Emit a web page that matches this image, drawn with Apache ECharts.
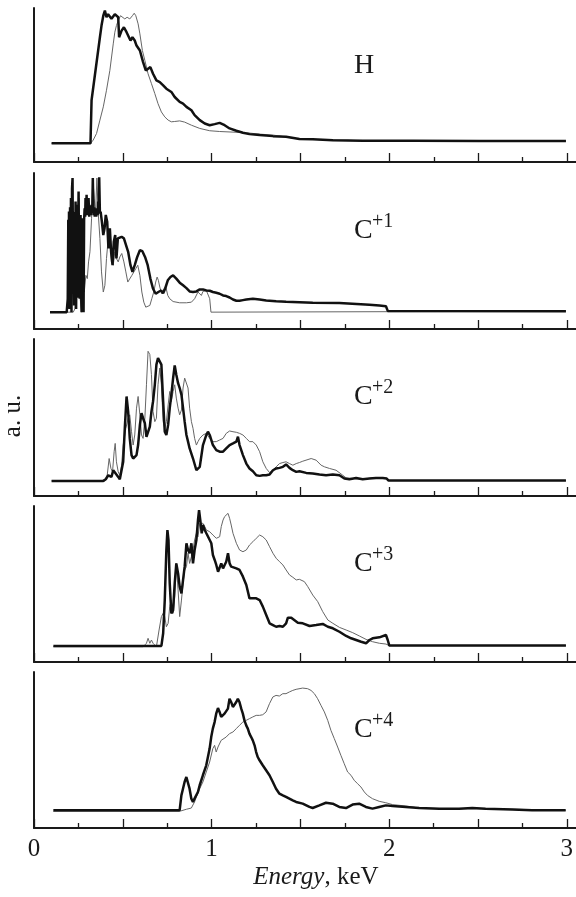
<!DOCTYPE html>
<html>
<head>
<meta charset="utf-8">
<script src="https://cdn.jsdelivr.net/npm/echarts@6/dist/echarts.min.js"></script>
<style>
  html, body { margin: 0; padding: 0; background: #fff; }
  #chart { width: 576px; height: 897px; }
</style>
</head>
<body>
<div id="chart"></div>
<script>
// energy in keV, signal in arbitrary units (0..100 of panel height)
const xTickLabels = ['0', '1', '2', '3'];
const panelIons = [['H', ''], ['C', '+1'], ['C', '+2'], ['C', '+3'], ['C', '+4']];
const yMax = [100, 100, 106, 100, 100];

const H_thick = [[0.099,12.1],[0.318,12.1],[0.324,40.1],[0.371,81.0],[0.380,88.6],[0.390,95.0],[0.399,98.3],[0.408,94.0],[0.417,96.0],[0.427,95.0],[0.436,93.0],[0.446,94.0],[0.455,96.0],[0.464,95.0],[0.474,94.0],[0.479,81.0],[0.493,85.3],[0.506,87.5],[0.521,84.3],[0.530,83.2],[0.543,78.9],[0.554,81.0],[0.567,78.9],[0.577,75.6],[0.596,72.4],[0.614,64.9],[0.629,59.5],[0.642,60.6],[0.655,61.6],[0.670,57.3],[0.689,53.0],[0.708,51.9],[0.727,49.8],[0.745,47.6],[0.773,45.5],[0.792,42.2],[0.820,39.0],[0.839,37.9],[0.858,35.8],[0.886,33.6],[0.904,30.4],[0.933,27.2],[0.961,25.0],[0.989,23.9],[1.017,24.6],[1.045,25.4],[1.073,23.9],[1.101,21.8],[1.139,20.3],[1.176,19.0],[1.213,18.1],[1.270,17.5],[1.345,16.8],[1.419,16.4],[1.494,14.9],[1.569,14.7],[1.682,14.2],[1.850,13.8],[2.131,13.8],[2.506,13.6],[2.994,13.6]];
const H_thin = [[0.099,12.1],[0.318,12.1],[0.333,14.2],[0.352,18.5],[0.371,27.2],[0.390,35.8],[0.408,46.6],[0.427,59.5],[0.446,76.7],[0.455,84.3],[0.464,88.6],[0.474,91.8],[0.487,95.0],[0.498,94.0],[0.511,92.9],[0.524,94.0],[0.539,92.9],[0.554,95.0],[0.564,96.6],[0.573,95.0],[0.586,89.7],[0.596,83.2],[0.610,72.4],[0.624,65.9],[0.642,57.3],[0.661,50.9],[0.680,44.4],[0.698,37.9],[0.717,32.5],[0.736,29.3],[0.755,27.2],[0.773,26.1],[0.792,26.3],[0.820,26.7],[0.848,25.9],[0.886,23.9],[0.933,21.8],[0.989,20.3],[1.045,19.8],[1.120,19.4],[1.195,19.0],[1.270,18.1],[1.345,17.5],[1.494,14.9],[1.850,13.8],[2.994,13.6]];

const C1_thick = [[0.090,10.8],[0.184,10.8],[0.190,19.4],[0.193,70.0],[0.195,15.0],[0.197,75.3],[0.200,12.9],[0.203,78.0],[0.205,14.0],[0.208,83.9],[0.211,10.8],[0.214,90.0],[0.217,96.8],[0.220,30.0],[0.223,70.0],[0.226,15.1],[0.229,75.0],[0.231,20.0],[0.234,81.7],[0.237,12.9],[0.240,70.0],[0.243,20.0],[0.245,79.6],[0.248,60.0],[0.251,88.2],[0.254,30.0],[0.257,19.4],[0.260,65.0],[0.262,73.1],[0.265,25.0],[0.268,10.8],[0.270,60.0],[0.273,71.0],[0.276,30.0],[0.279,10.8],[0.282,70.0],[0.285,77.4],[0.288,72.0],[0.290,83.9],[0.293,74.0],[0.296,86.0],[0.299,73.0],[0.301,80.0],[0.304,74.0],[0.307,83.9],[0.311,72.0],[0.315,79.0],[0.319,73.0],[0.324,79.6],[0.328,75.0],[0.331,96.8],[0.335,73.0],[0.339,78.0],[0.342,72.0],[0.346,77.4],[0.350,72.0],[0.354,76.0],[0.358,73.0],[0.361,81.7],[0.364,76.0],[0.367,97.2],[0.371,74.0],[0.375,75.3],[0.382,68.8],[0.390,60.2],[0.397,64.5],[0.404,73.1],[0.412,68.8],[0.419,51.6],[0.427,64.5],[0.434,49.5],[0.442,40.9],[0.449,55.9],[0.457,60.2],[0.464,45.2],[0.472,58.1],[0.479,59.1],[0.493,59.1],[0.506,58.1],[0.517,57.0],[0.530,49.5],[0.543,40.9],[0.554,36.6],[0.567,40.9],[0.581,46.2],[0.596,50.5],[0.610,49.9],[0.625,46.2],[0.640,40.9],[0.655,32.3],[0.670,25.8],[0.685,22.6],[0.700,23.7],[0.715,24.7],[0.727,23.0],[0.738,25.8],[0.753,31.2],[0.768,33.3],[0.783,34.4],[0.801,32.3],[0.820,29.7],[0.839,28.0],[0.858,26.2],[0.876,24.1],[0.895,23.7],[0.914,24.1],[0.933,25.4],[0.951,25.4],[0.970,24.7],[0.989,24.5],[1.007,23.7],[1.026,23.2],[1.045,22.6],[1.064,21.5],[1.082,21.1],[1.101,20.2],[1.120,18.9],[1.139,18.1],[1.157,18.1],[1.176,18.5],[1.195,18.9],[1.232,19.4],[1.270,18.9],[1.307,18.3],[1.363,17.8],[1.419,17.4],[1.569,16.8],[1.719,16.6],[1.888,15.5],[1.944,15.1],[1.981,14.6],[1.991,11.6],[2.000,11.4],[2.994,11.4]];
const C1_thin = [[0.090,10.8],[0.221,10.8],[0.230,12.9],[0.243,40.9],[0.253,83.9],[0.260,19.4],[0.268,10.8],[0.275,62.4],[0.283,23.7],[0.292,34.4],[0.300,32.3],[0.307,43.0],[0.315,49.5],[0.324,71.0],[0.331,96.8],[0.339,83.9],[0.346,73.1],[0.354,96.8],[0.361,75.3],[0.371,58.1],[0.380,36.6],[0.390,23.7],[0.399,28.0],[0.408,45.2],[0.418,58.1],[0.427,55.9],[0.436,43.0],[0.446,40.9],[0.455,49.5],[0.464,45.2],[0.474,43.0],[0.483,46.2],[0.494,48.4],[0.506,43.0],[0.517,36.6],[0.528,30.1],[0.539,31.2],[0.551,34.4],[0.562,35.5],[0.573,38.7],[0.584,40.9],[0.596,34.4],[0.607,23.7],[0.618,17.2],[0.629,14.0],[0.640,13.3],[0.652,15.1],[0.663,19.4],[0.674,23.7],[0.685,30.1],[0.693,33.3],[0.700,31.2],[0.708,26.9],[0.719,22.6],[0.730,25.8],[0.742,26.9],[0.753,21.5],[0.764,19.4],[0.783,17.6],[0.820,16.8],[0.858,16.8],[0.886,17.2],[0.904,19.4],[0.923,23.7],[0.933,24.7],[0.942,21.5],[0.951,24.1],[0.961,23.7],[0.970,24.7],[0.979,24.1],[0.989,19.4],[0.996,10.8],[1.000,11.2],[2.994,11.4]];

const C2_thick = [[0.099,10.2],[0.390,10.2],[0.404,11.3],[0.418,14.0],[0.427,15.2],[0.436,12.9],[0.446,17.4],[0.455,18.6],[0.464,14.5],[0.474,12.9],[0.483,11.3],[0.493,10.4],[0.502,23.1],[0.511,45.7],[0.521,67.2],[0.530,57.0],[0.539,38.9],[0.549,27.6],[0.558,25.3],[0.567,24.9],[0.577,27.6],[0.586,34.4],[0.596,48.0],[0.605,55.9],[0.614,52.5],[0.624,49.1],[0.633,40.0],[0.642,41.2],[0.652,46.8],[0.661,57.0],[0.670,63.8],[0.680,75.1],[0.689,88.7],[0.698,93.2],[0.708,93.7],[0.717,88.7],[0.727,63.8],[0.736,43.4],[0.745,41.2],[0.755,48.0],[0.764,59.3],[0.773,68.3],[0.783,79.6],[0.792,88.2],[0.801,81.9],[0.811,76.2],[0.820,72.9],[0.830,68.3],[0.839,59.3],[0.848,50.2],[0.858,41.2],[0.867,36.7],[0.876,32.1],[0.895,25.3],[0.914,17.4],[0.933,19.7],[0.951,34.4],[0.970,41.2],[0.979,43.4],[0.989,41.2],[1.007,34.4],[1.026,31.0],[1.045,29.9],[1.064,29.9],[1.082,32.1],[1.101,34.4],[1.120,35.5],[1.139,36.7],[1.148,40.0],[1.157,34.4],[1.176,27.6],[1.195,21.9],[1.213,18.6],[1.232,16.7],[1.251,14.0],[1.270,13.6],[1.288,14.0],[1.307,14.0],[1.326,14.5],[1.345,17.4],[1.363,18.6],[1.382,19.0],[1.401,19.7],[1.419,21.3],[1.438,19.0],[1.457,17.4],[1.476,16.3],[1.494,16.7],[1.532,15.6],[1.569,15.2],[1.607,14.5],[1.644,14.0],[1.682,14.5],[1.719,14.0],[1.747,11.8],[1.775,11.3],[1.813,12.2],[1.850,11.3],[1.888,11.8],[1.925,12.2],[1.963,12.2],[1.985,11.8],[1.996,10.4],[2.994,10.4]];
const C2_thin = [[0.099,10.2],[0.399,10.2],[0.412,14.0],[0.423,25.3],[0.433,18.6],[0.442,16.3],[0.451,29.9],[0.457,35.5],[0.464,23.1],[0.474,16.3],[0.483,14.0],[0.493,20.8],[0.502,34.4],[0.517,45.7],[0.530,52.5],[0.539,54.8],[0.549,43.4],[0.558,34.4],[0.567,41.2],[0.577,59.3],[0.586,67.2],[0.596,54.8],[0.605,41.2],[0.614,38.9],[0.624,52.5],[0.633,75.1],[0.642,97.7],[0.652,95.5],[0.661,81.9],[0.670,57.0],[0.680,50.2],[0.689,52.5],[0.698,75.1],[0.708,86.4],[0.717,75.1],[0.727,50.2],[0.736,45.7],[0.745,50.2],[0.755,61.5],[0.764,70.6],[0.773,63.8],[0.783,70.6],[0.792,75.1],[0.801,66.1],[0.811,59.3],[0.820,54.8],[0.830,58.1],[0.839,72.9],[0.848,79.6],[0.858,78.5],[0.867,72.9],[0.876,59.3],[0.886,50.2],[0.895,45.7],[0.904,38.9],[0.914,34.4],[0.923,36.7],[0.933,38.9],[0.951,41.2],[0.970,42.3],[0.989,38.9],[1.007,36.7],[1.026,36.7],[1.045,37.8],[1.064,38.9],[1.082,42.3],[1.101,43.9],[1.120,43.4],[1.139,43.0],[1.157,42.3],[1.176,41.2],[1.195,38.9],[1.213,36.7],[1.232,36.7],[1.251,34.4],[1.270,29.9],[1.288,23.1],[1.307,18.6],[1.326,15.8],[1.345,17.4],[1.363,19.7],[1.382,21.9],[1.401,22.6],[1.419,23.1],[1.438,21.9],[1.457,20.8],[1.476,21.9],[1.494,22.6],[1.513,23.5],[1.560,25.3],[1.588,24.2],[1.616,20.8],[1.635,19.7],[1.663,18.6],[1.700,17.4],[1.738,14.0],[1.757,12.2],[1.794,11.8],[1.850,11.3],[1.906,12.2],[1.944,11.8],[1.985,11.8],[1.996,10.4],[2.994,10.4]];

const C3_thick = [[0.109,10.3],[0.717,10.3],[0.727,18.4],[0.736,39.7],[0.745,71.8],[0.751,84.6],[0.757,78.2],[0.764,50.4],[0.773,31.2],[0.783,33.3],[0.792,50.4],[0.801,63.2],[0.811,56.8],[0.820,48.3],[0.830,44.0],[0.839,52.6],[0.848,61.1],[0.858,76.1],[0.867,71.8],[0.876,69.7],[0.886,76.1],[0.895,63.2],[0.904,71.8],[0.914,78.2],[0.923,91.0],[0.929,97.4],[0.936,91.0],[0.944,82.5],[0.951,87.8],[0.961,84.6],[0.970,82.5],[0.979,83.5],[0.989,78.2],[0.998,76.1],[1.007,68.6],[1.017,65.4],[1.026,62.2],[1.036,57.9],[1.045,59.0],[1.054,63.2],[1.064,60.0],[1.073,62.2],[1.082,64.3],[1.092,69.7],[1.101,63.2],[1.110,61.1],[1.120,60.0],[1.139,60.0],[1.157,59.0],[1.167,60.0],[1.176,54.7],[1.195,49.4],[1.213,40.8],[1.232,40.8],[1.251,40.8],[1.270,39.7],[1.288,35.5],[1.307,30.1],[1.326,24.8],[1.345,23.7],[1.363,22.6],[1.382,23.1],[1.401,22.6],[1.419,24.8],[1.429,28.4],[1.448,28.4],[1.485,25.2],[1.513,24.8],[1.551,23.1],[1.588,23.7],[1.625,24.4],[1.654,22.6],[1.682,21.6],[1.719,19.4],[1.757,16.7],[1.785,15.2],[1.813,14.1],[1.841,13.0],[1.869,12.0],[1.888,14.1],[1.906,15.2],[1.944,15.8],[1.981,17.3],[1.991,14.1],[2.000,10.5],[2.994,10.5]];
const C3_thin = [[0.109,9.8],[0.614,9.8],[0.633,12.0],[0.642,15.2],[0.652,12.0],[0.661,14.1],[0.670,12.0],[0.680,13.0],[0.689,9.8],[0.704,20.5],[0.717,29.1],[0.727,31.2],[0.736,29.1],[0.745,22.6],[0.755,24.8],[0.764,35.5],[0.773,39.7],[0.783,31.2],[0.792,41.9],[0.801,63.2],[0.811,46.2],[0.820,29.1],[0.830,39.7],[0.839,50.4],[0.848,59.0],[0.858,61.1],[0.867,69.7],[0.876,63.2],[0.886,67.5],[0.895,71.8],[0.904,78.2],[0.914,82.5],[0.923,80.3],[0.933,88.9],[0.942,90.0],[0.951,88.9],[0.961,86.8],[0.970,84.6],[0.989,83.5],[1.007,81.4],[1.026,79.3],[1.036,78.6],[1.045,80.3],[1.054,86.8],[1.064,91.0],[1.073,93.2],[1.082,94.2],[1.092,95.3],[1.101,92.1],[1.110,87.8],[1.120,82.5],[1.139,76.1],[1.157,71.8],[1.176,70.7],[1.195,71.8],[1.213,75.0],[1.232,77.1],[1.251,79.3],[1.270,81.4],[1.288,80.3],[1.307,78.2],[1.326,73.9],[1.345,69.7],[1.363,66.5],[1.382,64.3],[1.401,62.2],[1.419,59.0],[1.438,55.8],[1.457,54.3],[1.476,52.6],[1.494,53.0],[1.504,52.6],[1.522,51.5],[1.541,48.3],[1.569,42.9],[1.597,38.7],[1.625,32.3],[1.654,26.9],[1.682,24.8],[1.719,22.2],[1.757,20.5],[1.794,18.8],[1.831,16.7],[1.869,14.5],[1.906,13.0],[1.944,12.0],[1.981,11.5],[2.000,10.5],[2.994,10.5]];

const C4_thick = [[0.109,11.3],[0.820,11.3],[0.830,20.9],[0.839,25.2],[0.848,29.5],[0.858,32.7],[0.867,31.6],[0.876,25.2],[0.886,18.8],[0.895,16.7],[0.904,18.8],[0.914,18.8],[0.923,23.1],[0.933,27.4],[0.951,33.8],[0.970,40.2],[0.989,50.9],[0.998,58.3],[1.007,63.7],[1.017,67.9],[1.026,73.3],[1.036,76.9],[1.045,74.4],[1.054,71.2],[1.064,72.2],[1.073,73.3],[1.082,74.4],[1.092,76.5],[1.101,82.9],[1.110,80.8],[1.120,77.6],[1.129,77.6],[1.139,80.8],[1.148,82.9],[1.157,80.8],[1.167,76.5],[1.176,73.3],[1.185,69.0],[1.195,65.8],[1.204,63.7],[1.213,60.5],[1.223,58.3],[1.232,56.2],[1.242,53.0],[1.251,48.7],[1.260,45.5],[1.270,43.4],[1.288,40.2],[1.307,37.0],[1.326,33.8],[1.345,29.5],[1.363,25.2],[1.382,22.0],[1.401,20.9],[1.419,19.9],[1.438,18.8],[1.457,17.7],[1.476,16.7],[1.513,15.6],[1.551,13.5],[1.569,12.8],[1.607,14.5],[1.644,16.2],[1.682,15.6],[1.719,13.5],[1.757,12.8],[1.794,15.0],[1.831,15.6],[1.869,13.5],[1.906,12.4],[1.944,13.5],[1.981,14.5],[2.019,14.1],[2.094,13.5],[2.169,12.8],[2.281,12.4],[2.393,12.4],[2.468,12.8],[2.543,12.4],[2.693,11.8],[2.805,11.3],[2.994,11.3]];
const C4_thin = [[0.109,10.7],[0.820,10.7],[0.858,12.0],[0.886,12.8],[0.904,16.7],[0.914,19.9],[0.923,22.0],[0.933,25.2],[0.951,29.5],[0.970,35.9],[0.989,42.3],[1.007,50.9],[1.017,53.0],[1.026,48.7],[1.036,51.9],[1.045,53.0],[1.054,56.2],[1.064,55.1],[1.082,58.3],[1.101,60.5],[1.120,61.5],[1.139,63.7],[1.157,65.8],[1.176,67.9],[1.195,69.0],[1.213,70.1],[1.232,71.2],[1.251,72.2],[1.270,72.2],[1.288,72.6],[1.307,74.4],[1.326,79.7],[1.345,84.0],[1.363,85.0],[1.382,84.6],[1.401,86.1],[1.419,86.1],[1.438,87.2],[1.457,88.2],[1.476,88.9],[1.513,89.7],[1.541,89.3],[1.560,88.2],[1.579,86.1],[1.597,82.9],[1.616,78.6],[1.635,74.4],[1.654,69.0],[1.672,62.6],[1.691,57.3],[1.710,51.9],[1.728,46.6],[1.747,41.2],[1.766,35.9],[1.785,33.8],[1.803,30.6],[1.822,28.4],[1.841,26.3],[1.860,23.1],[1.878,20.9],[1.906,18.8],[1.944,17.1],[1.981,16.2],[2.019,15.0],[2.094,14.1],[2.169,12.8],[2.318,12.4],[2.506,12.4],[2.693,12.0],[2.994,11.3]];

const thickSeries = [H_thick, C1_thick, C2_thick, C3_thick, C4_thick];
const thinSeries = [H_thin, C1_thin, C2_thin, C3_thin, C4_thin];

// layout
const serif = '"Liberation Serif", "Times New Roman", serif';
const ink = '#1a1a1a';
const panelBox = [[8, 162], [173, 329], [339, 496], [506, 662], [672, 828]];
const gridLeft = 34, gridRight = 9, W = 576;

let chart = echarts.init(document.getElementById('chart'));

const grid = [], xAxis = [], yAxis = [], series = [], graphic = [];
panelBox.forEach(([top, bottom], i) => {
    const last = i === panelBox.length - 1;
    grid.push({ left: gridLeft, right: gridRight, top: top, height: bottom - top });
    xAxis.push({
        type: 'value', gridIndex: i, min: 0, max: 3, interval: 0.5,
        axisLine: { lineStyle: { color: ink, width: 2 } },
        axisTick: { inside: true, length: 9, lineStyle: { color: ink, width: 1.3 } },
        minorTick: { show: true, splitNumber: 2, length: 5, lineStyle: { color: ink, width: 1.3 } },
        splitLine: { show: false },
        axisLabel: {
            show: last, margin: 9, fontFamily: serif, fontSize: 25, color: ink,
            formatter: v => (Number.isInteger(v) ? xTickLabels[v] : '')
        },
        name: last ? '{i|Energy}{n|, keV}' : '',
        nameLocation: 'middle', nameGap: 37,
        nameTextStyle: {
            padding: [0, 0, 0, 31],
            rich: {
                i: { fontFamily: serif, fontSize: 25, fontStyle: 'italic', color: ink },
                n: { fontFamily: serif, fontSize: 25, color: ink }
            }
        }
    });
    yAxis.push({
        type: 'value', gridIndex: i, min: 0, max: yMax[i],
        axisLine: { show: true, lineStyle: { color: ink, width: 2 } },
        axisTick: { show: false }, axisLabel: { show: false }, splitLine: { show: false }
    });
    series.push({
        type: 'line', xAxisIndex: i, yAxisIndex: i, data: thinSeries[i],
        symbol: 'none', lineStyle: { color: '#666', width: 1 }, z: 2
    });
    series.push({
        type: 'line', xAxisIndex: i, yAxisIndex: i, data: thickSeries[i],
        symbol: 'none', lineStyle: { color: '#111', width: 2.5 }, z: 3
    });
    // axis line continues past the 3 keV tick to the page edge
    graphic.push({
        type: 'line', shape: { x1: W - gridRight, y1: bottom, x2: W, y2: bottom },
        style: { stroke: ink, lineWidth: 2 }
    });
    // ion label with charge as superscript
    const [ion, charge] = panelIons[i];
    graphic.push({
        type: 'text', x: 354, y: top + 58,
        style: { text: ion, font: '28px ' + serif, fill: ink, align: 'left', verticalAlign: 'middle' }
    });
    if (charge) {
        graphic.push({
            type: 'text', x: 372, y: top + 49,
            style: { text: charge, font: '20px ' + serif, fill: ink, align: 'left', verticalAlign: 'middle' }
        });
    }
});

graphic.push({
    type: 'text', x: 13, y: 416, rotation: Math.PI / 2,
    style: { text: 'a. u.', font: '25px ' + serif, fill: ink, align: 'center', verticalAlign: 'middle' }
});

const option = {
    animation: false,
    backgroundColor: '#fff',
    grid: grid,
    xAxis: xAxis,
    yAxis: yAxis,
    series: series,
    graphic: graphic
};
chart.setOption(option);
</script>
</body>
</html>
